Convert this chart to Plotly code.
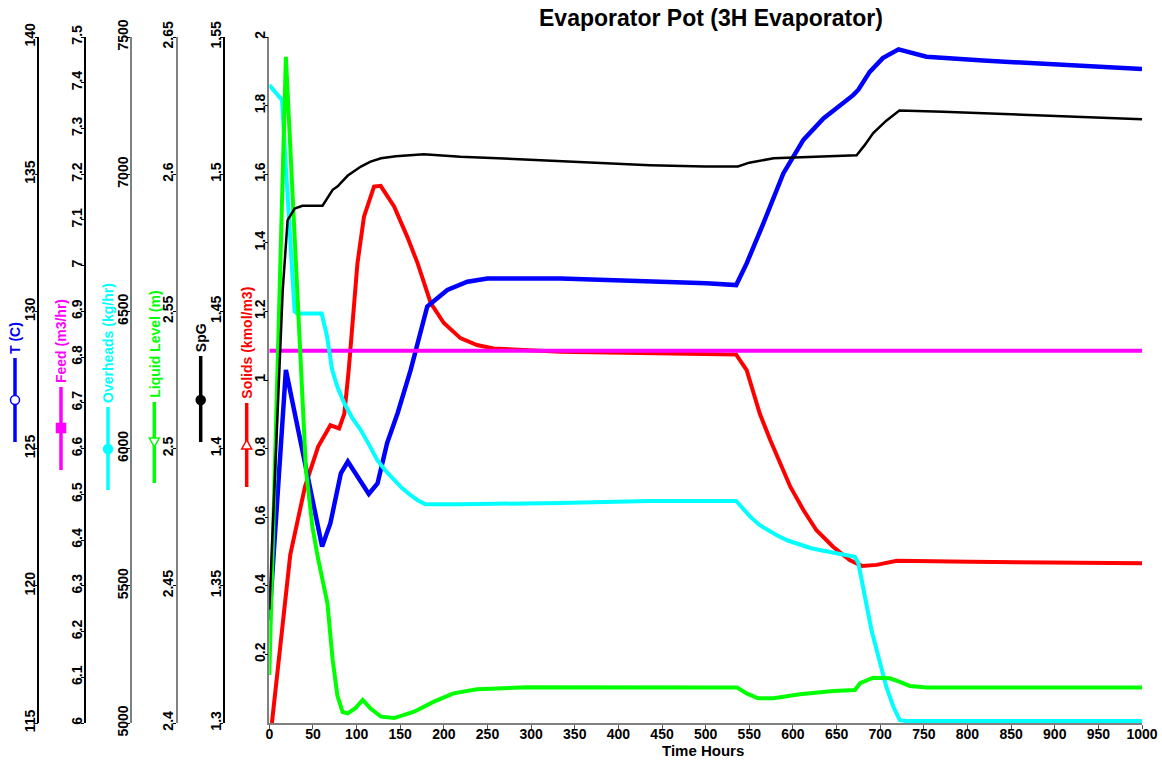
import plotly.graph_objects as go

# ---------------- data ----------------
t_T = [0, 19, 30.7, 46, 60.5, 70, 82, 90, 101, 114, 124, 135, 147, 162, 181, 204, 227, 250, 334, 436, 501, 535,
       547, 566, 589, 612, 635, 669, 675, 688, 703, 721, 753, 818, 894, 1000]
T_C = [118.75, 127.87, 126.05, 123.6, 121.43, 122.28, 124.1, 124.53, 123.98, 123.35, 123.73, 125.2, 126.29, 127.87,
       130.18, 130.78, 131.08, 131.2, 131.2, 131.1, 131.03, 130.96, 131.75, 133.2, 135.03, 136.25, 137.03, 137.88,
       138.08, 138.73, 139.23, 139.55, 139.28, 139.14, 139.0, 138.83]

t_feed = [0, 250, 500, 750, 1000]
feed = [6.814, 6.814, 6.814, 6.814, 6.814]

t_oh = [0, 14.6, 19, 24, 29, 32, 60, 66, 72, 78, 86, 95, 105, 115, 124, 133, 143, 152, 162, 170, 179, 219, 334, 436,
        535, 543, 551, 562, 571, 581, 594, 608, 621, 635, 658, 671, 675, 682.5, 690, 700, 707, 715, 722.5, 730, 1000]
overheads = [7325, 7270, 7025, 6750, 6500, 6492, 6492, 6412, 6287, 6225, 6165, 6112, 6067, 6010, 5957, 5920, 5885,
             5856, 5830, 5812, 5797, 5797, 5802, 5809, 5809, 5778, 5752, 5721, 5702, 5685, 5665, 5649, 5637, 5628,
             5615, 5606, 5582, 5460, 5339, 5217, 5132, 5060, 5010, 5007, 5007]

t_lvl = [0, 19, 42, 49.4, 55.5, 61, 66.6, 72.6, 78, 84, 90, 99, 107, 116, 128, 143, 166, 188.6, 211, 238, 295, 536,
         547, 560, 578, 608, 646, 671, 677, 692, 711, 722.5, 734, 753, 1000]
level = [2.4175, 2.6428, 2.4923, 2.4715, 2.4605, 2.452, 2.4436, 2.423, 2.41, 2.404, 2.4035, 2.4055, 2.4084, 2.4053,
         2.4023, 2.4018, 2.4041, 2.4078, 2.4108, 2.4123, 2.413, 2.4129, 2.4108, 2.409, 2.409, 2.4105, 2.4117, 2.412,
         2.4145, 2.4165, 2.4163, 2.415, 2.4135, 2.4129, 2.4129]

t_spg = [0, 15.4, 21, 29, 38, 61, 72.6, 78, 90, 105, 116, 128, 145, 162, 177, 219, 334, 436, 499, 537, 550, 578, 673,
         682, 692, 707, 722, 772, 1000]
spg = [1.3413, 1.4578, 1.4833, 1.4875, 1.4885, 1.4885, 1.4943, 1.4955, 1.4995, 1.5028, 1.5046, 1.5058, 1.5065,
       1.5069, 1.5073, 1.5064, 1.5048, 1.5033, 1.5028, 1.5028, 1.5042, 1.5058, 1.5069, 1.5105, 1.515, 1.5195, 1.5232,
       1.5228, 1.52]

t_sol = [3, 13, 24, 41, 56, 70, 80, 86, 91, 101, 108.5, 120, 127.6, 143, 158, 170, 185, 200, 219, 238, 257, 334,
         436, 535, 547, 562, 574, 585, 597, 612, 627, 646, 665, 679, 696, 719, 803, 1000]
solids = [0.0, 0.222, 0.49, 0.69, 0.806, 0.868, 0.859, 0.902, 1.029, 1.34, 1.476, 1.564, 1.566, 1.506, 1.418, 1.34,
          1.224, 1.166, 1.122, 1.102, 1.092, 1.082, 1.078, 1.074, 1.029, 0.902, 0.825, 0.757, 0.689, 0.621, 0.562,
          0.514, 0.475, 0.458, 0.461, 0.473, 0.47, 0.466]

# tick labels
x_ticks = list(range(0, 1001, 50))
T_ticks = [115, 120, 125, 130, 135, 140]
T_text = ["115", "120", "125", "130", "135", "140"]
feed_ticks = [6.0, 6.1, 6.2, 6.3, 6.4, 6.5, 6.6, 6.7, 6.8, 6.9, 7.0, 7.1, 7.2, 7.3, 7.4, 7.5]
feed_text = ["6", "6.1", "6.2", "6.3", "6.4", "6.5", "6.6", "6.7", "6.8", "6.9", "7", "7.1", "7.2", "7.3", "7.4", "7.5"]
oh_ticks = [5000, 5500, 6000, 6500, 7000, 7500]
oh_text = ["5000", "5500", "6000", "6500", "7000", "7500"]
lvl_ticks = [2.4, 2.45, 2.5, 2.55, 2.6, 2.65]
lvl_text = ["2.4", "2.45", "2.5", "2.55", "2.6", "2.65"]
spg_ticks = [1.3, 1.35, 1.4, 1.45, 1.5, 1.55]
spg_text = ["1.3", "1.35", "1.4", "1.45", "1.5", "1.55"]
sol_ticks = [0.2, 0.4, 0.6, 0.8, 1.0, 1.2, 1.4, 1.6, 1.8, 2.0]
sol_text = ["0.2", "0.4", "0.6", "0.8", "1", "1.2", "1.4", "1.6", "1.8", "2"]

# ---------------- layout helpers ----------------
W, H = 1162, 760


def px(x):
    return x / W


def py(y):
    return 1 - y / H


FONT = "Arial, Liberation Sans, sans-serif"
ytickfont = dict(family=FONT, size=14, color="black")
xtickfont = dict(family=FONT, size=14, color="black")

X0, X1 = 269.3, 1142
Y_TOP, Y_BOT = 37, 723
ydom = [py(Y_BOT), py(Y_TOP)]

fig = go.Figure()

fig.add_trace(go.Scatter(x=t_sol, y=solids, mode="lines", line=dict(color="#FF0000", width=4), yaxis="y", name="Solids"))
fig.add_trace(go.Scatter(x=t_T, y=T_C, mode="lines", line=dict(color="#0000FF", width=4.5), yaxis="y2", name="T"))
fig.add_trace(go.Scatter(x=t_feed, y=feed, mode="lines", line=dict(color="#FF00FF", width=4), yaxis="y3", name="Feed"))
fig.add_trace(go.Scatter(x=t_oh, y=overheads, mode="lines", line=dict(color="#00FFFF", width=4), yaxis="y4", name="Overheads"))
fig.add_trace(go.Scatter(x=t_lvl, y=level, mode="lines", line=dict(color="#00FF00", width=4), yaxis="y5", name="Level"))
fig.add_trace(go.Scatter(x=t_spg, y=spg, mode="lines", line=dict(color="#000000", width=2.5), yaxis="y6", name="SpG"))


def yax(rng, tv, tt, pos=None, linecolor="black"):
    d = dict(range=rng, tickmode="array", tickvals=tv, ticktext=["<b>" + s + "</b>" for s in tt], tickangle=-90,
             ticks="outside", ticklen=3, tickcolor="black", showline=True, linecolor=linecolor, linewidth=1.5,
             showgrid=False, zeroline=False, tickfont=ytickfont, automargin=False, ticklabelstandoff=-6)
    if pos is not None:
        d.update(anchor="free", overlaying="y", position=pos, side="left")
    else:
        d.update(anchor="x", domain=ydom)
    return d


fig.update_layout(
    width=W, height=H, autosize=False,
    xaxis=dict(domain=[px(X0), px(X1)], range=[0, 1000], tickmode="array", tickvals=x_ticks,
               ticktext=["<b>%d</b>" % v for v in x_ticks], ticks="outside", ticklen=4,
               tickcolor="#555", showline=True, linecolor="#808080", linewidth=1.5, showgrid=False, zeroline=False,
               tickfont=xtickfont, automargin=False, ticklabelstandoff=-7),
    yaxis=yax([0, 2], sol_ticks, sol_text, None, "#808080"),
    yaxis2=yax([115, 140], T_ticks, T_text, px(38.3)),
    yaxis3=yax([6, 7.5], feed_ticks, feed_text, px(85)),
    yaxis4=yax([5000, 7500], oh_ticks, oh_text, px(131), "#808080"),
    yaxis5=yax([2.4, 2.65], lvl_ticks, lvl_text, px(176.7), "#808080"),
    yaxis6=yax([1.3, 1.55], spg_ticks, spg_text, px(224)),
    margin=dict(l=0, r=0, t=0, b=0),
    paper_bgcolor="white",
    plot_bgcolor="white",
    showlegend=False,
)

# title and x-axis title
fig.add_annotation(text="<b>Evaporator Pot (3H Evaporator)</b>", x=px(711), y=py(18), xref="paper", yref="paper",
                   showarrow=False, xanchor="center", yanchor="middle",
                   font=dict(family=FONT, size=23, color="black"))
fig.add_annotation(text="<b>Time Hours</b>", x=px(703), y=py(750), xref="paper", yref="paper",
                   showarrow=False, xanchor="center", yanchor="middle",
                   font=dict(family=FONT, size=15, color="black"))

# rotated axis labels with legend glyphs
labels = [
    ("T (C)", "#0000FF", 15, 358, 442, 400, "circle", "white"),
    ("Feed (m3/hr)", "#FF00FF", 61, 387, 470, 428, "square", "#FF00FF"),
    ("Overheads (kg/hr)", "#00FFFF", 108, 407, 490, 449, "circle", "#00FFFF"),
    ("Liquid Level (m)", "#00FF00", 154.3, 402, 483, 442, "tri-down", "white"),
    ("SpG", "#000000", 200.7, 356, 442, 400, "circle", "#000000"),
    ("Solids (kmol/m3)", "#FF0000", 246.7, 403, 487, 445, "tri-up", "white"),
]
for text, col, lx, ytop, ybot, ymk, sym, fill in labels:
    fig.add_annotation(text="<b>" + text + "</b>", x=px(lx), y=py(ytop - 2), xref="paper", yref="paper",
                       showarrow=False, textangle=-90, xanchor="center", yanchor="bottom",
                       font=dict(family=FONT, size=14, color=col))
    fig.add_shape(type="line", xref="paper", yref="paper", x0=px(lx), x1=px(lx), y0=py(ytop), y1=py(ybot),
                  line=dict(color=col, width=3.5))
    common = dict(xref="paper", yref="paper", xsizemode="pixel", ysizemode="pixel", xanchor=px(lx), yanchor=py(ymk),
                  fillcolor=fill, line=dict(color=col, width=1.5))
    if sym == "circle":
        fig.add_shape(type="circle", x0=-4.5, x1=4.5, y0=-4.5, y1=4.5, **common)
    elif sym == "square":
        fig.add_shape(type="rect", x0=-4.5, x1=4.5, y0=-4.5, y1=4.5, **common)
    elif sym == "tri-down":
        fig.add_shape(type="path", path="M -5,4 L 5,4 L 0,-5 Z", **common)
    else:
        fig.add_shape(type="path", path="M -5,-4 L 5,-4 L 0,5 Z", **common)

# remove the default page margin so the 1162x760 figure fills the window exactly
post = ("document.documentElement.style.margin='0';document.body.style.margin='0';"
        "document.body.style.overflow='hidden';")
fig.write_html("out.html", post_script=post, config={"displayModeBar": False})
